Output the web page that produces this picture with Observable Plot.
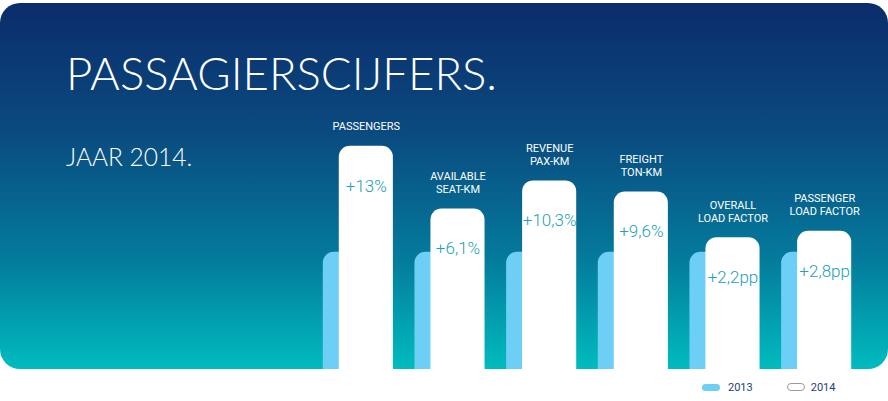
<!DOCTYPE html>
<html>
<head>
<meta charset="utf-8">
<script src="https://cdn.jsdelivr.net/npm/d3@7"></script>
<script src="https://cdn.jsdelivr.net/npm/@observablehq/plot@0.6"></script>
<style>
  html, body { margin: 0; padding: 0; background: #ffffff; }
  #wrap { position: relative; width: 888px; height: 401px; overflow: hidden; font-family: Lato, Roboto, sans-serif; }
  #panel { position: absolute; left: 0; top: 3px; width: 888px; height: 366px; border-radius: 20px;
    background: linear-gradient(to bottom, #0b2c6b 0%, #0a4a7f 35%, #047b9c 70%, #00bcbf 100%); }
  #chart { position: absolute; left: 0; top: 0; }
  #chart svg { background: transparent; overflow: hidden; }
  .title { position: absolute; left: 66px; top: 45px; font-size: 45.5px; font-weight: 300; color: #fff; white-space: nowrap; }
  .subtitle { position: absolute; left: 66px; top: 142px; font-size: 24.5px; font-weight: 300; color: #fff; white-space: nowrap; }
  .legend { position: absolute; top: 380px; left: 702px; font-family: Roboto, sans-serif; font-size: 11px; color: #1d3f7a; display: flex; }
  .legend .item { display: flex; align-items: center; height: 14px; }
  .legend .sw { width: 18px; height: 7px; border-radius: 4px; margin-right: 8px; box-sizing: border-box; }
</style>
</head>
<body>
<div id="wrap">
  <div id="panel"></div>
  <div class="title">PASSAGIERSCIJFERS.</div>
  <div class="subtitle">JAAR 2014.</div>
  <div id="chart"></div>
  <div class="legend" id="legend"></div>
</div>
<script>
// Data (bar heights as an index, 2013 = 100)
const categories = ["PASSENGERS", "AVAILABLE\nSEAT-KM", "REVENUE\nPAX-KM", "FREIGHT\nTON-KM", "OVERALL\nLOAD FACTOR", "PASSENGER\nLOAD FACTOR"];
const values2013 = [100, 100, 100, 100, 100, 100];
const values2014 = [190.5, 137, 161, 151.5, 112.5, 118];
const changeLabels = ["+13%", "+6,1%", "+10,3%", "+9,6%", "+2,2pp", "+2,8pp"];
const seriesNames = ["2013", "2014"];
const seriesColors = ["#6dcff6", "#ffffff"];

const rows = categories.map((c, i) => ({cat: c, v2013: values2013[i], v2014: values2014[i], label: changeLabels[i]}));

const plot = Plot.plot({
  width: 888,
  height: 369,
  marginTop: 0,
  marginBottom: 0,
  marginLeft: 320,
  marginRight: 18,
  style: {background: "transparent", overflow: "hidden"},
  x: {domain: categories, paddingInner: 0.41, paddingOuter: 0.205, round: false, axis: null},
  y: {domain: [0, 315], axis: null},
  marks: [
    Plot.barY(rows, {x: "cat", y: "v2013", fill: seriesColors[0], dx: -16, rx: 11, insetBottom: -20, clip: true}),
    Plot.barY(rows, {x: "cat", y: "v2014", fill: seriesColors[1], rx: 11, insetBottom: -20, clip: true}),
    Plot.text(rows, {x: "cat", y: "v2014", text: "cat", dy: -16, lineAnchor: "bottom", lineHeight: 1.2,
      fill: "#ffffff", fontSize: 11, fontFamily: "Roboto, sans-serif", fontWeight: 400}),
    Plot.text(rows, {x: "cat", y: "v2014", text: "label", dy: 40, lineAnchor: "middle",
      fill: "#23a0b6", fontSize: 17, fontFamily: "Roboto, sans-serif", fontWeight: 300, letterSpacing: "-0.4px"})
  ]
});
document.getElementById("chart").appendChild(plot);

const legend = document.getElementById("legend");
seriesNames.forEach((name, i) => {
  const item = document.createElement("div");
  item.className = "item";
  item.style.marginRight = i === 0 ? "34px" : "0";
  const sw = document.createElement("div");
  sw.className = "sw";
  sw.style.background = seriesColors[i];
  if (i === 1) { sw.style.border = "1px solid #9a9a9a"; sw.style.height = "8px"; sw.style.marginRight = "6px"; }
  const t = document.createElement("span");
  t.textContent = name;
  item.appendChild(sw);
  item.appendChild(t);
  legend.appendChild(item);
});
</script>
</body>
</html>
